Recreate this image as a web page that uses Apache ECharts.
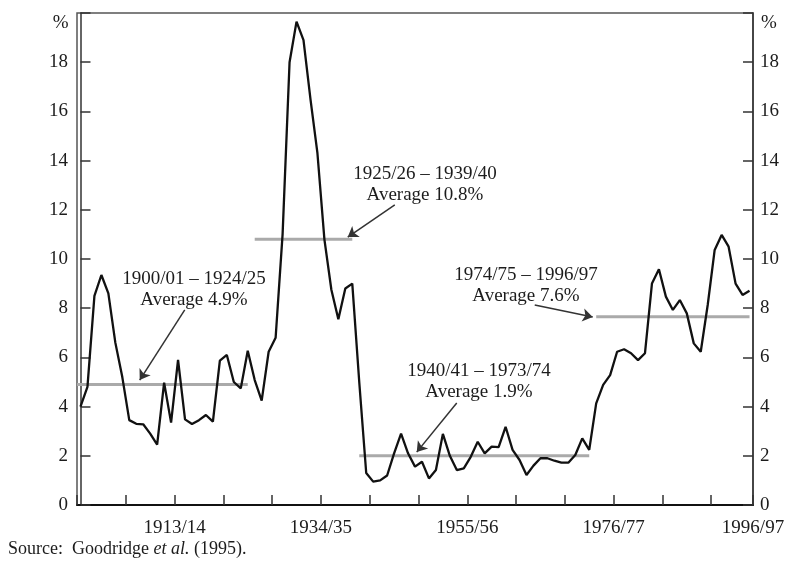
<!DOCTYPE html>
<html>
<head>
<meta charset="utf-8">
<script src="https://cdn.jsdelivr.net/npm/echarts@6/dist/echarts.min.js"></script>
<style>
  html, body { margin: 0; padding: 0; background: #fff; }
  #chart { width: 791px; height: 565px; }
</style>
</head>
<body>
<div id="chart"></div>
<script>
// fiscal years 1900/01 .. 1996/97
const seasons = [];
for (let i = 0; i < 97; i++) {
  seasons.push((1900 + i) + "/" + String((1901 + i) % 100).padStart(2, "0"));
}

// unemployment rate, %
const unemployment = [
  4.0, 4.8, 8.5, 9.35, 8.6, 6.6, 5.2, 3.45, 3.3, 3.28,
  2.9, 2.45, 4.97, 3.35, 5.9, 3.48, 3.29, 3.45, 3.66, 3.39,
  5.87, 6.1, 5.0, 4.74, 6.27, 5.08, 4.24, 6.23, 6.8, 11.0,
  18.0, 19.65, 18.9, 16.5, 14.3, 10.8, 8.75, 7.55, 8.8, 9.0,
  5.0, 1.3, 0.95, 1.0, 1.2, 2.1, 2.9, 2.1, 1.56, 1.76,
  1.08, 1.42, 2.89, 2.0, 1.42, 1.49, 1.96, 2.57, 2.1, 2.37,
  2.35, 3.18, 2.24, 1.83, 1.22, 1.6, 1.9, 1.9, 1.8, 1.72,
  1.72, 2.03, 2.71, 2.24, 4.13, 4.88, 5.28, 6.23, 6.33, 6.17,
  5.89, 6.17, 9.0, 9.58, 8.47, 7.93, 8.33, 7.79, 6.57, 6.23,
  8.13, 10.37, 10.98, 10.5, 9.0, 8.54, 8.71
];

// period averages (start index, end index, level as drawn)
const avgStart = [-0.5, 25, 40, 74];
const avgEnd = [24, 39, 73, 96];
const avgLevel = [4.9, 10.8, 2.0, 7.65];
const avgText = [
  "1900/01 – 1924/25\nAverage 4.9%",
  "1925/26 – 1939/40\nAverage 10.8%",
  "1940/41 – 1973/74\nAverage 1.9%",
  "1974/75 – 1996/97\nAverage 7.6%"
];
// text centres (px) and arrows (data coords: from -> to)
const textPos = [[194, 290], [425, 185], [479, 382], [526, 286]];
const arrows = [
  [[14.96, 7.93], [8.5, 5.08]],
  [[45.1, 12.2], [38.35, 10.89]],
  [[53.99, 4.15], [48.25, 2.15]],
  [[65.18, 8.13], [73.5, 7.64]]
];

const xTickLabels = ["1913/14", "1934/35", "1955/56", "1976/77", "1996/97"];

const font = "'Liberation Serif', 'Times New Roman', serif";
const ink = "#1c1c1c";

const chart = echarts.init(document.getElementById("chart"), null, { renderer: "canvas" });

const yAxisBase = {
  type: "value",
  min: 0,
  max: 20,
  interval: 2,
  name: "%",
  nameLocation: "end",
  nameGap: -10,
  axisLine: { show: true, lineStyle: { color: "#333", width: 1.5 } },
  axisTick: { show: true, inside: true, length: 10, lineStyle: { color: "#333", width: 1.5 } },
  splitLine: { show: false },
};

const avgSeries = avgLevel.map((lv, k) => ({
  type: "line",
  data: [[avgStart[k], lv], [avgEnd[k], lv]],
  symbol: "none",
  lineStyle: { color: "#aaaaaa", width: 3 },
  z: 2,
  silent: true,
}));

avgSeries[0].markLine = {
  silent: true,
  symbol: ["none", "arrow"],
  symbolSize: 10,
  label: { show: false },
  lineStyle: { color: "#333", width: 1.5, type: "solid" },
  data: arrows.map(a => [{ coord: a[0] }, { coord: a[1] }]),
};

const option = {
  animation: false,
  backgroundColor: "#fff",
  grid: {
    left: 77, right: 38, top: 13, bottom: 60,
    show: true, borderColor: "#555", borderWidth: 1.5,
  },
  xAxis: {
    type: "value",
    min: -0.5,
    max: 96.5,
    interval: 7,
    axisLine: { show: true, lineStyle: { color: "#111", width: 2 } },
    axisTick: { show: true, inside: true, length: 10, lineStyle: { color: "#333", width: 1.5 } },
    splitLine: { show: false },
    axisLabel: {
      margin: 14,
      fontFamily: font,
      fontSize: 19,
      color: ink,
      formatter: v => {
        const s = seasons[Math.round(v - 0.5)];
        return xTickLabels.includes(s) ? s : "";
      },
    },
  },
  yAxis: [
    Object.assign({}, yAxisBase, {
      position: "left",
      nameTextStyle: { fontFamily: font, fontSize: 19, color: ink, align: "right", verticalAlign: "middle", padding: [0, 12, 0, 0] },
      axisLabel: { margin: 9, fontFamily: font, fontSize: 19, color: ink, formatter: v => (v === 20 ? "" : v) },
    }),
    Object.assign({}, yAxisBase, {
      position: "right",
      nameTextStyle: { fontFamily: font, fontSize: 19, color: ink, align: "left", verticalAlign: "middle", padding: [0, 0, 0, 8] },
      axisLabel: { margin: 7, fontFamily: font, fontSize: 19, color: ink, formatter: v => (v === 20 ? "" : v) },
    }),
  ],
  series: [
    ...avgSeries,
    {
      name: "Unemployment rate",
      type: "line",
      data: unemployment.map((v, i) => [i, v]),
      symbol: "none",
      lineStyle: { color: "#111", width: 2.3 },
      z: 3,
    },
  ],
  graphic: [
    ...avgText.map((t, k) => ({
      type: "text",
      x: textPos[k][0],
      y: textPos[k][1],
      silent: true,
      style: {
        text: t,
        fontFamily: font,
        fontSize: 19,
        lineHeight: 21,
        fill: ink,
        align: "center",
        verticalAlign: "middle",
      },
    })),
    {
      type: "text",
      x: 8,
      y: 549,
      silent: true,
      style: {
        text: "{a|Source:  Goodridge }{b|et al.}{a| (1995).}",
        verticalAlign: "middle",
        rich: {
          a: { fontFamily: font, fontSize: 18, fill: ink },
          b: { fontFamily: font, fontSize: 18, fill: ink, fontStyle: "italic" },
        },
      },
    },
  ],
};

chart.setOption(option);
</script>
</body>
</html>
